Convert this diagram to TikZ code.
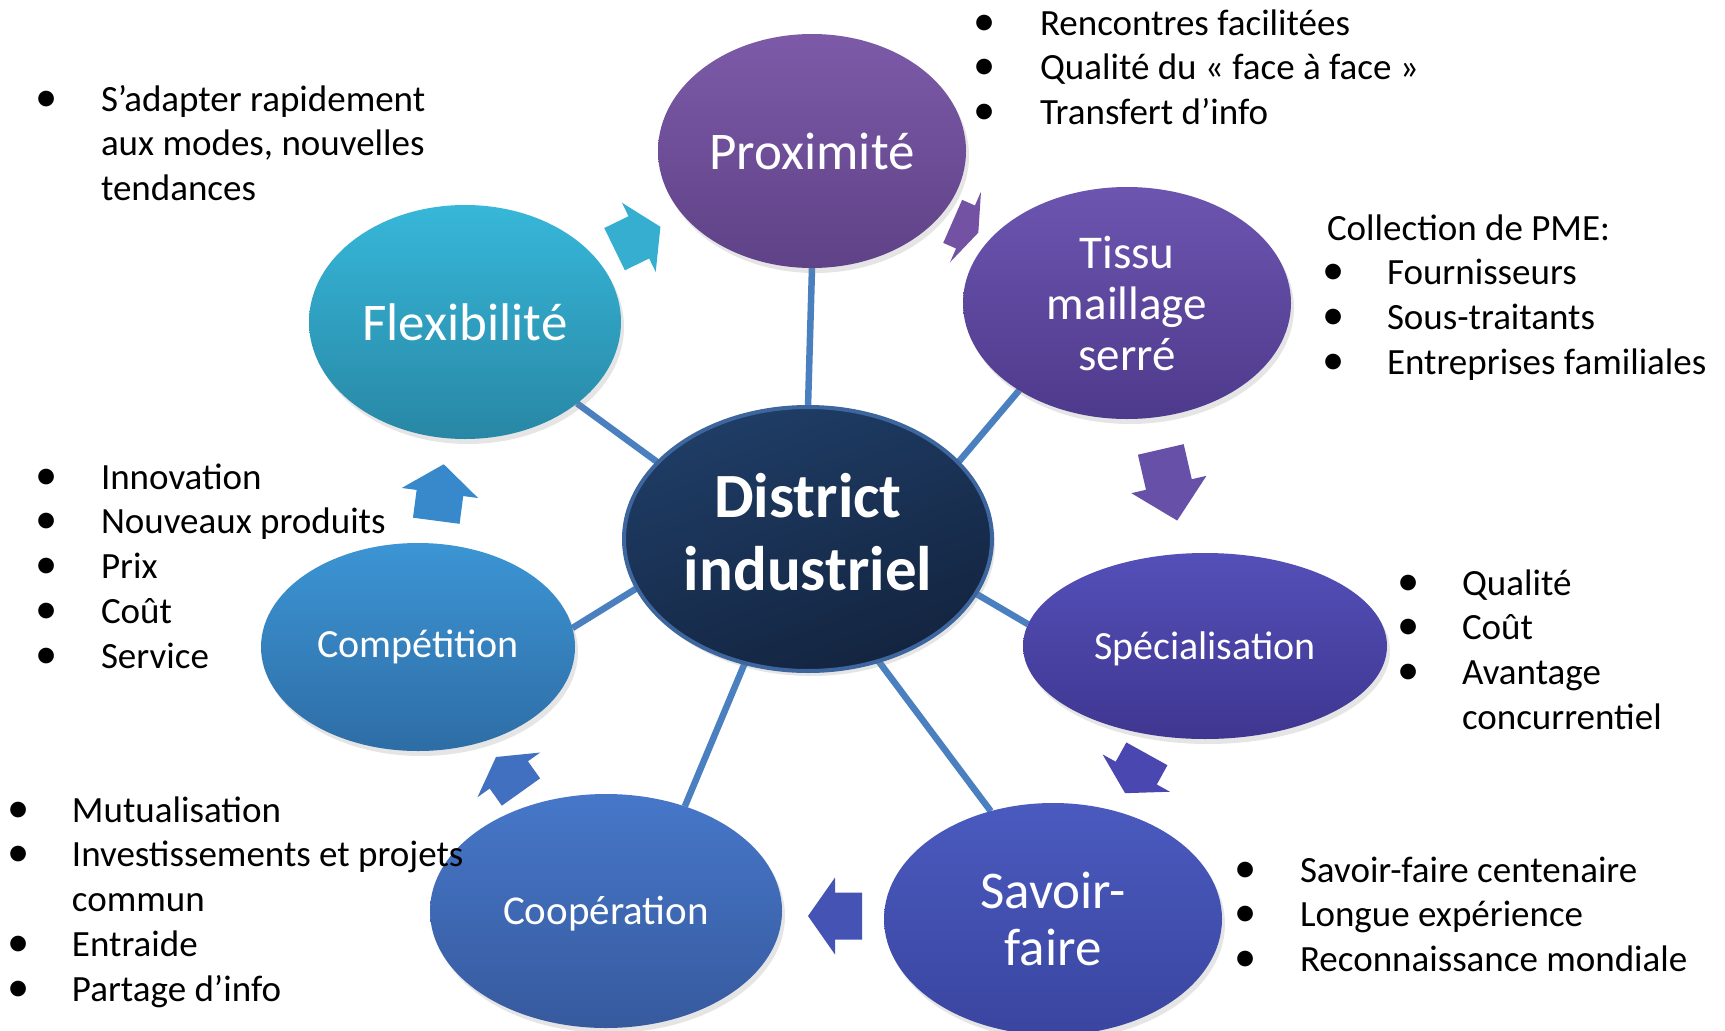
\documentclass[tikz,border=0pt]{standalone}
\usepackage{fontspec}
\setmainfont{Carlito}
\usetikzlibrary{shapes.geometric,shadows,backgrounds}
\definecolor{lineblue}{HTML}{4A80C0}
\definecolor{proxT}{HTML}{7C5AA8}\definecolor{proxB}{HTML}{5F4287}
\definecolor{tisT}{HTML}{6C55B0}\definecolor{tisB}{HTML}{4E3A8C}
\definecolor{speT}{HTML}{5450B9}\definecolor{speB}{HTML}{3F3690}
\definecolor{savT}{HTML}{4A5ABE}\definecolor{savB}{HTML}{3A45A0}
\definecolor{coopT}{HTML}{4677C9}\definecolor{coopB}{HTML}{375A9E}
\definecolor{comT}{HTML}{3C95D4}\definecolor{comB}{HTML}{2E6DA6}
\definecolor{flexT}{HTML}{37B7D9}\definecolor{flexB}{HTML}{2887A5}
\definecolor{disT}{HTML}{1F3D66}\definecolor{disB}{HTML}{13243F}
\definecolor{disBorder}{HTML}{3D659E}
\definecolor{ar1}{HTML}{35AECF}\definecolor{ar2}{HTML}{7352A3}
\definecolor{ar3}{HTML}{6650A8}\definecolor{ar4}{HTML}{4B47B0}
\definecolor{ar5}{HTML}{4553B5}\definecolor{ar6}{HTML}{4270C0}
\definecolor{ar7}{HTML}{3789CB}
\tikzset{
  bub/.style={ellipse, inner sep=0pt, outer sep=0pt, text=white, align=center,
    drop shadow={shadow xshift=3pt, shadow yshift=-5pt, opacity=0.2}},
  conn/.style={draw=lineblue, line width=6.5pt},
  listtext/.style={inner sep=0pt, outer sep=0pt, anchor=base west,
    font=\fontsize{37pt}{44.8pt}\selectfont}
}
\newcommand{\bul}{\makebox[0pt]{\scalebox{1.2}{\textbullet}}}
\newcommand{\blockarr}[6]{%
  \begin{scope}[shift={(#1,#2)}, rotate=#3]
    \fill[#6] ({#4/2},0) -- ({#4/2-#5},38.5) -- ({#4/2-#5},23.5) -- ({-#4/2},23.5)
      -- ({-#4/2},-23.5) -- ({#4/2-#5},-23.5) -- ({#4/2-#5},-38.5) -- cycle;
  \end{scope}}
\begin{document}
\begin{tikzpicture}[x=1pt,y=-1pt]
\useasboundingbox (0,0) rectangle (1725,1031);

% ellipses
\node[bub, minimum width=308, minimum height=234, top color=proxT, bottom color=proxB,
  font=\fontsize{53pt}{57pt}\selectfont] (prox) at (812,151) {Proximité};
\node[bub, minimum width=328, minimum height=232, top color=tisT, bottom color=tisB,
  font=\fontsize{47pt}{51pt}\selectfont] (tissu) at (1127,303) {Tissu\\maillage\\serré};
\node[bub, minimum width=364, minimum height=186, top color=speT, bottom color=speB,
  font=\fontsize{40pt}{46pt}\selectfont] (spec) at (1205,646) {\raisebox{-3pt}[\height][\depth]{Spécialisation}};
\node[bub, minimum width=338, minimum height=232, top color=savT, bottom color=savB,
  font=\fontsize{53pt}{57pt}\selectfont] (savoir) at (1053,919) {Savoir-\\faire};
\node[bub, minimum width=352, minimum height=234, top color=coopT, bottom color=coopB,
  font=\fontsize{41pt}{46pt}\selectfont] (coop) at (606,911) {\raisebox{-3pt}[\height][\depth]{Coopération}};
\node[bub, minimum width=314, minimum height=208, top color=comT, bottom color=comB,
  font=\fontsize{40pt}{46pt}\selectfont] (compet) at (418,647) {Compétition};
\node[bub, minimum width=312, minimum height=234, top color=flexT, bottom color=flexB,
  font=\fontsize{53pt}{57pt}\selectfont] (flex) at (465,322) {Flexibilité};
\node[bub, minimum width=368, minimum height=264, top color=disT, bottom color=disB,
  shading angle=20, draw=disBorder, line width=4pt,
  font=\bfseries\fontsize{63pt}{74pt}\selectfont] (dist) at (808,539) {\raisebox{4pt}{\begin{tabular}{@{}c@{}}District\\[-0.5pt]industriel\end{tabular}}};

% connectors behind the ellipses
\begin{scope}[on background layer]
  \fill[white] (0,0) rectangle (1725,1031);
  \draw[conn] (dist.90) -- (prox.-90);
  \draw[conn] (dist.27) -- (tissu.219);
  \draw[conn] (dist.-18) -- (spec.173);
  \draw[conn] (dist.-60) -- (savoir.120);
  \draw[conn] (dist.-117) -- (coop.53);
  \draw[conn] (dist.196) -- (compet.7);
  \draw[conn] (dist.153) -- (flex.-36);
\end{scope}

% cycle block arrows
\blockarr{637.5}{238}{26}{51}{24}{ar1}
\blockarr{965.5}{227}{-23.7}{28}{14}{ar2}
\blockarr{1169}{485}{-77}{73}{37}{ar3}
\blockarr{1136}{773.5}{241}{45}{23}{ar4}
\blockarr{835}{916}{180}{54}{27}{ar5}
\blockarr{508.5}{774.5}{125.5}{43}{22}{ar6}
\blockarr{440}{492.5}{82.5}{57}{29}{ar7}

% bullet lists
\node[listtext] (lprox) at (985,35) {\begin{tabular}[t]{@{}p{55pt}@{}l@{}}
  \bul & Rencontres facilitées\\
  \bul & Qualité du « face à face »\\
  \bul & Transfert d’info\end{tabular}};
\node[listtext] (ltissu) at (1327,240) {\begin{tabular}[t]{@{}p{60pt}@{}l@{}}
  \multicolumn{2}{@{}l@{}}{Collection de PME:}\\
  \hspace*{7pt}\bul & Fournisseurs\\
  \hspace*{7pt}\bul & Sous-traitants\\
  \hspace*{7pt}\bul & Entreprises familiales\end{tabular}};
\node[listtext] (lflex) at (47,111) {\begin{tabular}[t]{@{}p{54pt}@{}l@{}}
  \bul & S’adapter rapidement\\
   & aux modes, nouvelles\\
   & tendances\end{tabular}};
\node[listtext] (lcomp) at (47,489) {\begin{tabular}[t]{@{}p{54pt}@{}l@{}}
  \bul & Innovation\\
  \bul & Nouveaux produits\\
  \bul & Prix\\
  \bul & Coût\\
  \bul & Service\end{tabular}};
\node[listtext] (lspec) at (1409,595) {\begin{tabular}[t]{@{}p{53pt}@{}l@{}}
  \bul & Qualité\\
  \bul & Coût\\
  \bul & Avantage\\
   & concurrentiel\end{tabular}};
\node[listtext] (lsav) at (1246,882) {\begin{tabular}[t]{@{}p{54pt}@{}l@{}}
  \bul & Savoir-faire centenaire\\
  \bul & Longue expérience\\
  \bul & Reconnaissance mondiale\end{tabular}};
\node[listtext] (lcoop) at (19,822) {\begin{tabular}[t]{@{}p{53pt}@{}l@{}}
  \bul & Mutualisation\\
  \bul & Investissements et projets\\
   & commun\\
  \bul & Entraide\\
  \bul & Partage d’info\end{tabular}};
\end{tikzpicture}
\end{document}
